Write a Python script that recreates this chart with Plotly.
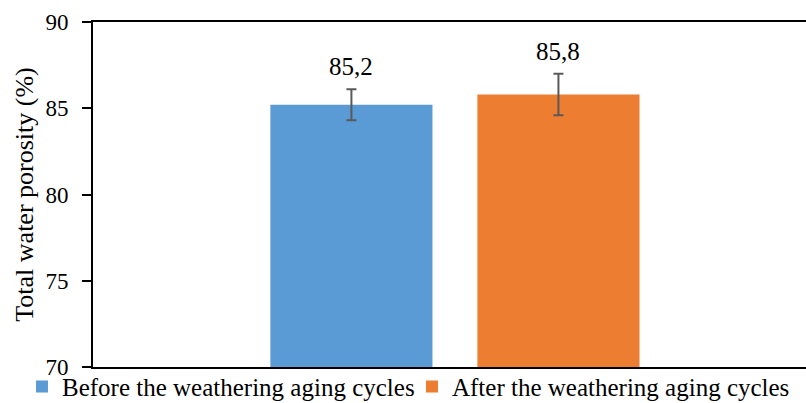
import plotly.graph_objects as go

series_names = ["Before the weathering aging cycles", "After the weathering aging cycles"]
values = [85.2, 85.8]
errors = [0.9, 1.2]
labels = ["85,2", "85,8"]
colors = ["#5B9BD5", "#ED7D31"]
category = [""]
y_ticks = [70, 75, 80, 85, 90]

FONT = "Liberation Serif"
BARGAP = 0.428
GROUPGAP = 0.217

fig = go.Figure()
for name, v, e, c in zip(series_names, values, errors, colors):
    fig.add_trace(go.Bar(
        x=category, y=[v], name=name, marker=dict(color=c, line=dict(width=0)),
        error_y=dict(type="data", array=[e], color="#595959", thickness=2, width=5),
    ))

slot = (1 - BARGAP) / len(values)
for i, (v, e, lab) in enumerate(zip(values, errors, labels)):
    xc = -(1 - BARGAP) / 2 + slot * (i + 0.5)
    fig.add_annotation(x=xc, y=v + e, text=lab, showarrow=False, yanchor="bottom",
                       yshift=7, font=dict(family=FONT, size=25, color="black"))

fig.update_layout(
    width=806, height=403,
    margin=dict(l=93, r=0, t=22, b=36, autoexpand=False),
    plot_bgcolor="white", paper_bgcolor="white",
    barmode="group", bargap=BARGAP, bargroupgap=GROUPGAP,
    font=dict(family=FONT, color="black"),
    showlegend=True,
    legend=dict(orientation="h", x=-0.0996, xanchor="left", y=-0.057, yanchor="middle",
                bgcolor="rgba(0,0,0,0)",
                font=dict(family=FONT, size=25, color="black"),
                itemwidth=30, tracegroupgap=0, traceorder="normal",
                entrywidth=345, entrywidthmode="pixels"),
)
fig.update_xaxes(type="category", range=[-0.5, 0.485], showline=True, linecolor="black",
                 linewidth=2, mirror=True, showticklabels=False, ticks="", showgrid=False,
                 automargin=False)
fig.update_yaxes(range=[70, 90], tickvals=y_ticks, showline=True, linecolor="black", linewidth=2,
                 ticks="outside", ticklen=9, tickwidth=2, tickcolor="black", showgrid=False,
                 zeroline=False, automargin=False, mirror=False, ticklabelstandoff=9,
                 tickfont=dict(family=FONT, size=23, color="black"),
                 title=dict(text="Total water porosity (%)", font=dict(family=FONT, size=26, color="black"),
                            standoff=4))

fig.write_html("out.html", config={"displayModeBar": False},
               post_script="document.body.style.margin='0';")
